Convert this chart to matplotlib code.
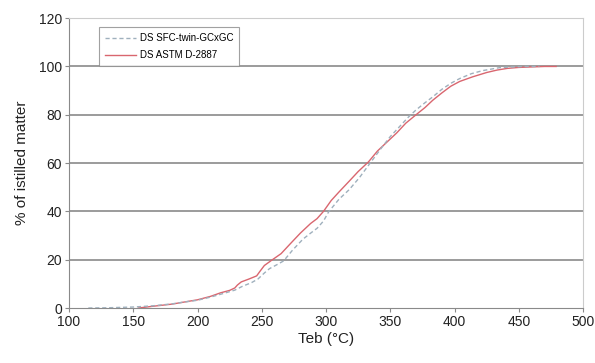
import matplotlib
matplotlib.use('Agg')
import matplotlib.pyplot as plt

plt.rcParams['font.family'] = ['Liberation Sans', 'DejaVu Sans']

# DS ASTM D-2887 (red, solid)
astm_t = [154, 165, 180, 190, 200, 210, 218, 225, 229, 231, 234, 240, 246, 249, 252,
          258, 265, 272, 280, 288, 293, 298, 304, 310, 318, 325, 333, 340, 345, 355,
          362, 370, 377, 383, 390, 397, 404, 414, 425, 433, 441, 450, 460, 470, 479]
astm_y = [0, 0.7, 1.6, 2.5, 3.4, 4.8, 6.3, 7.3, 8.3, 9.5, 10.8, 12, 13.3, 15.5, 17.6,
          19.9, 22.5, 26.5, 31, 35, 37, 40, 44.5, 48, 52.5, 56.5, 60.5, 65, 67.5, 72.5,
          76.5, 80, 83, 86, 89, 91.8, 93.8, 95.7, 97.5, 98.5, 99.2, 99.6, 99.8, 100, 100]

# DS SFC-twin-GCxGC (grey-blue, dashed)
sfc_t = [115, 130, 150, 165, 180, 190, 200, 210, 220, 229, 235, 242, 247, 252, 256,
         262, 267, 274, 282, 288, 293, 298, 302, 310, 318, 326, 335, 342, 350, 357,
         364, 370, 377, 383, 390, 397, 404, 413, 422, 435, 445, 455, 466]
sfc_y = [0, 0.1, 0.4, 0.9, 1.7, 2.5, 3.2, 4.5, 6, 7.4, 9, 10.5, 12, 14.5, 16.3,
         18, 19.5, 24, 28.5, 31, 33, 36, 39.8, 45, 49, 54, 60.5, 65.5, 71, 75,
         79, 82, 85, 87.4, 90.5, 93, 95, 97, 98.3, 99.5, 99.8, 100, 100]

x_ticks = [100, 150, 200, 250, 300, 350, 400, 450, 500]
y_ticks = [0, 20, 40, 60, 80, 100, 120]

fig = plt.figure(figsize=(5.95, 3.63), dpi=100)
ax = fig.add_axes([0.116, 0.1515, 0.864, 0.7985])

for v in y_ticks[1:]:
    ax.axhline(v, color='#8a8a8a', lw=1.2, zorder=1)

ax.plot(sfc_t, sfc_y, color='#9fb0bd', lw=1.0, ls=(0, (3, 2)),
        label='DS SFC-twin-GCxGC', zorder=3)
ax.plot(astm_t, astm_y, color='#d9666f', lw=1.0, label='DS ASTM D-2887', zorder=2)

ax.set_xlim(100, 500)
ax.set_ylim(0, 120)
ax.set_xticks(x_ticks)
ax.set_yticks(y_ticks)

for s in ['left', 'bottom']:
    ax.spines[s].set_color('#8a8a8a')
for s in ['right', 'top']:
    ax.spines[s].set_color('#cccccc')
ax.tick_params(direction='out', length=3, color='#8a8a8a', labelsize=10,
               labelcolor='#222222', pad=2)

ax.set_xlabel('Teb (°C)', fontsize=11, color='#222222', labelpad=2)
ax.set_ylabel('% of istilled matter', fontsize=11, color='#222222', labelpad=7)

leg = ax.legend(loc='upper left', bbox_to_anchor=(0.058, 0.969), fontsize=7,
                frameon=True, fancybox=False, handlelength=3.2, borderpad=0.6,
                labelspacing=0.75, handletextpad=0.4, borderaxespad=0)
leg.get_frame().set_edgecolor('#8a8a8a')
leg.get_frame().set_linewidth(0.8)

fig.savefig('out.png', dpi=100)
